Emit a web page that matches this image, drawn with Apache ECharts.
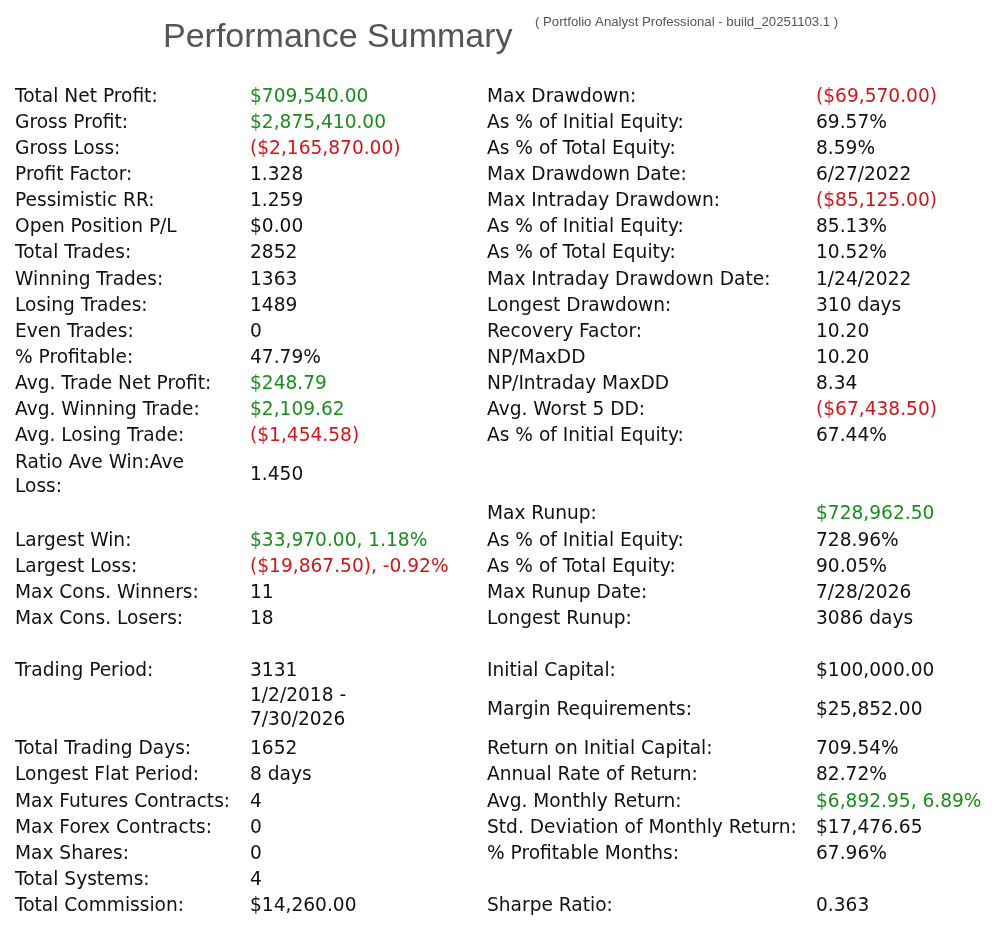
<!DOCTYPE html>
<html style="height: 100%">
<head>
    <meta charset="utf-8">
</head>
<body style="margin: 0; background: #fff">
    <div id="container" style="width: 1000px; height: 929px;"></div>
    <script type="text/javascript" src="https://cdn.jsdelivr.net/npm/echarts@6/dist/echarts.min.js"></script>
    <script type="text/javascript">
// left half of the report
var leftLabels = ['Total Net Profit:', 'Gross Profit:', 'Gross Loss:', 'Profit Factor:', 'Pessimistic RR:',
    'Open Position P/L', 'Total Trades:', 'Winning Trades:', 'Losing Trades:', 'Even Trades:',
    '% Profitable:', 'Avg. Trade Net Profit:', 'Avg. Winning Trade:', 'Avg. Losing Trade:',
    'Ratio Ave Win:Ave\nLoss:', 'Largest Win:', 'Largest Loss:', 'Max Cons. Winners:', 'Max Cons. Losers:',
    'Trading Period:', '', 'Total Trading Days:', 'Longest Flat Period:', 'Max Futures Contracts:',
    'Max Forex Contracts:', 'Max Shares:', 'Total Systems:', 'Total Commission:'];
var leftValues = ['$709,540.00', '$2,875,410.00', '($2,165,870.00)', '1.328', '1.259',
    '$0.00', '2852', '1363', '1489', '0',
    '47.79%', '$248.79', '$2,109.62', '($1,454.58)',
    '1.450', '$33,970.00, 1.18%', '($19,867.50), -0.92%', '11', '18',
    '3131', '1/2/2018 -\n7/30/2026', '1652', '8 days', '4',
    '0', '0', '4', '$14,260.00'];
var leftTone = ['pos', 'pos', 'neg', '', '', '', '', '', '', '', '', 'pos', 'pos', 'neg',
    '', 'pos', 'neg', '', '', '', '', '', '', '', '', '', '', ''];
var leftSlots = [0, 1, 2, 3, 4, 5, 6, 7, 8, 9, 10, 11, 12, 13,
    14.5, 17, 18, 19, 20, 22, 23.4, 25, 26, 27, 28, 29, 30, 31];

// right half of the report
var rightLabels = ['Max Drawdown:', 'As % of Initial Equity:', 'As % of Total Equity:', 'Max Drawdown Date:',
    'Max Intraday Drawdown:', 'As % of Initial Equity:', 'As % of Total Equity:', 'Max Intraday Drawdown Date:',
    'Longest Drawdown:', 'Recovery Factor:', 'NP/MaxDD', 'NP/Intraday MaxDD', 'Avg. Worst 5 DD:',
    'As % of Initial Equity:', 'Max Runup:', 'As % of Initial Equity:', 'As % of Total Equity:',
    'Max Runup Date:', 'Longest Runup:', 'Initial Capital:', 'Margin Requirements:',
    'Return on Initial Capital:', 'Annual Rate of Return:', 'Avg. Monthly Return:',
    'Std. Deviation of Monthly Return:', '% Profitable Months:', 'Sharpe Ratio:'];
var rightValues = ['($69,570.00)', '69.57%', '8.59%', '6/27/2022',
    '($85,125.00)', '85.13%', '10.52%', '1/24/2022',
    '310 days', '10.20', '10.20', '8.34', '($67,438.50)',
    '67.44%', '$728,962.50', '728.96%', '90.05%',
    '7/28/2026', '3086 days', '$100,000.00', '$25,852.00',
    '709.54%', '82.72%', '$6,892.95, 6.89%',
    '$17,476.65', '67.96%', '0.363'];
var rightTone = ['neg', '', '', '', 'neg', '', '', '', '', '', '', '', 'neg',
    '', 'pos', '', '', '', '', '', '', '', '', 'pos', '', '', ''];
var rightSlots = [0, 1, 2, 3, 4, 5, 6, 7, 8, 9, 10, 11, 12, 13,
    16, 17, 18, 19, 20, 22, 23.5, 25, 26, 27, 28, 29, 31];

var titleText = 'Performance Summary';
var subText = '( Portfolio Analyst Professional - build_20251103.1 )';

// layout
var colX = { leftLabel: 15, leftValue: 250, rightLabel: 487, rightValue: 816 };
var toneColor = { pos: '#1a8c1e', neg: '#d0161a', '': '#111111' };
var bodyFont = '"DejaVu Sans", Verdana, sans-serif';

function column(texts, slots, x, tones) {
    return {
        type: 'scatter',
        symbolSize: 0,
        silent: true,
        itemStyle: { color: 'transparent', opacity: 1 },
        label: {
            show: true,
            position: 'right',
            distance: 0,
            fontFamily: bodyFont,
            fontSize: 18.6,
            lineHeight: 24,
            color: '#111111',
            formatter: function (p) { return p.name; }
        },
        data: texts.map(function (t, i) {
            var item = { name: t, value: [x, slots[i]] };
            if (tones) item.label = { color: toneColor[tones[i]] };
            return item;
        })
    };
}

var dom = document.getElementById('container');
var myChart = echarts.init(dom);
var option = {
    backgroundColor: '#ffffff',
    animation: false,
    title: [{
        text: titleText,
        left: 163,
        top: 21,
        padding: 0,
        textStyle: { fontFamily: '"Liberation Sans", Arial, sans-serif', fontSize: 34, fontWeight: 'normal', color: '#555555' }
    }, {
        text: subText,
        left: 535,
        top: 16,
        padding: 0,
        textStyle: { fontFamily: '"Liberation Sans", Arial, sans-serif', fontSize: 13.2, fontWeight: 'normal', color: '#555555' }
    }],
    grid: { left: 0, right: 0, top: 97, bottom: 929 - 97 - 31 * 26.1 },
    xAxis: { type: 'value', min: 0, max: 1000, show: false },
    yAxis: { type: 'value', min: 0, max: 31, inverse: true, show: false },
    series: [
        column(leftLabels, leftSlots, colX.leftLabel),
        column(leftValues, leftSlots, colX.leftValue, leftTone),
        column(rightLabels, rightSlots, colX.rightLabel),
        column(rightValues, rightSlots, colX.rightValue, rightTone)
    ]
};
myChart.setOption(option);
    </script>
</body>
</html>
